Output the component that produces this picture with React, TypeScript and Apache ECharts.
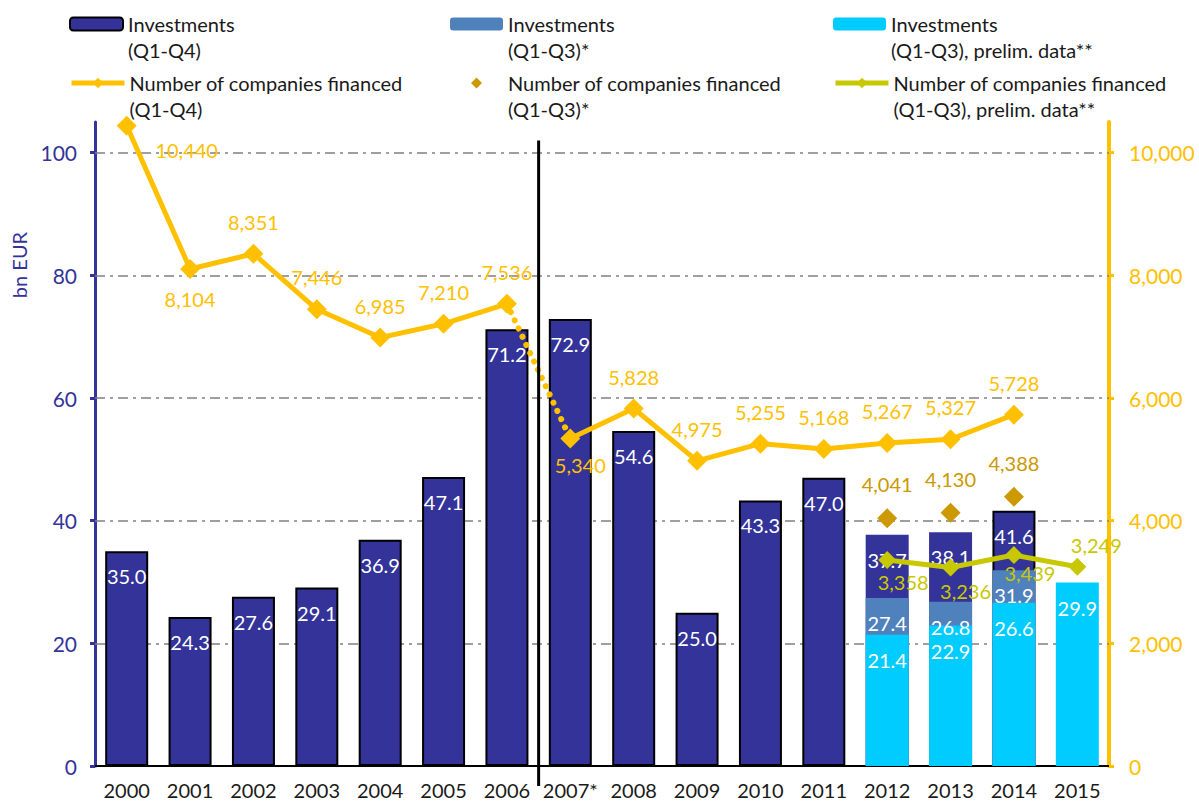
import React, { useEffect, useRef } from 'react';
import * as echarts from 'echarts';

const FONT = 'Lato, "Noto Sans", sans-serif';

const years = ['2000', '2001', '2002', '2003', '2004', '2005', '2006', '2007*', '2008', '2009', '2010', '2011', '2012', '2013', '2014', '2015'];
const invQ4 = [35.0, 24.3, 27.6, 29.1, 36.9, 47.1, 71.2, 72.9, 54.6, 25.0, 43.3, 47.0, 37.7, 38.1, 41.6, null];
const invQ3 = [null, null, null, null, null, null, null, null, null, null, null, null, 27.4, 26.8, 31.9, null];
const invPrelim = [null, null, null, null, null, null, null, null, null, null, null, null, 21.4, 22.9, 26.6, 29.9];
const compQ4 = [10440, 8104, 8351, 7446, 6985, 7210, 7536, 5340, 5828, 4975, 5255, 5168, 5267, 5327, 5728, null];
const compQ3 = [null, null, null, null, null, null, null, null, null, null, null, null, 4041, 4130, 4388, null];
const compPrelim = [null, null, null, null, null, null, null, null, null, null, null, null, 3358, 3236, 3439, 3249];
const leftTicks = [0, 20, 40, 60, 80, 100];
const breakYear = '2007*';
const noBorderYears = ['2012', '2013'];

// label placement (style only)
const compQ4LabelOffset = [[60, 24], [0, 30], [0, -32], [0, -32], [0, -32], [0, -32], [0, -32], [10, 27], [0, -32], [0, -32], [0, -32], [0, -32], [0, -32], [0, -32], [0, -32], [0, 0]];
const compQ3LabelOffset = [0, -34];
const compPrelimLabelOffset = [[0, 0], [0, 0], [0, 0], [0, 0], [0, 0], [0, 0], [0, 0], [0, 0], [0, 0], [0, 0], [0, 0], [0, 0], [16, 22], [15, 23], [16, 18], [19, -22]];

const N1 = 'Investments\n(Q1-Q4)';
const N2 = 'Investments\n(Q1-Q3)*';
const N3 = 'Investments\n(Q1-Q3), prelim. data**';
const N4 = 'Number of companies financed\n(Q1-Q4)';
const N5 = 'Number of companies financed\n(Q1-Q3)*';
const N6 = 'Number of companies financed\n(Q1-Q3), prelim. data**';

const C_DARK = '#333399';
const C_MID = '#4F81BD';
const C_CYAN = '#00CCFF';
const C_YEL = '#FFC000';
const C_GOLD = '#CC9900';
const C_LIME = '#C8C800';

const FS = 20;

const fmtInt = (v: number) => Math.round(v).toLocaleString('en-US');

// legend icon: a small diamond centred in a 53x13 box (corner points fix the box)
const DIAMOND_ICON = 'path://M0,0L0,0.01ZM53,13L53,12.99ZM21,6.5L26.5,1L32,6.5L26.5,12Z';

export default function App() {
  const ref = useRef<HTMLDivElement>(null);
  useEffect(() => {
    document.body.style.margin = '0';
    if (!ref.current) return;
    const chart = echarts.init(ref.current, undefined, { renderer: 'svg' });
    const breakIdx = years.indexOf(breakYear);

    const compBefore = compQ4.map((v, i) => (i < breakIdx ? v : null));
    const compAfter = compQ4.map((v, i) => (i >= breakIdx ? v : null));
    const compDotted = compQ4.map((v, i) => (i === breakIdx - 1 || i === breakIdx ? v : null));

    const lineLabel = (offsets: number[][]) => (v: number | null, i: number) =>
      v == null ? null : { value: v, label: { offset: offsets[i] } };

    const mkLegend = (name: string, left: number, iconCenter: number, extra: any = {}) => ({
      data: [name],
      left,
      top: iconCenter - 39,
      padding: 0,
      itemWidth: 53,
      itemHeight: 13,
      selectedMode: false,
      formatter: (n: string) => '\n' + n,
      lineStyle: { width: 5 },
      textStyle: {
        fontFamily: FONT,
        fontSize: FS,
        color: '#1a1a1a',
        lineHeight: 26,
      },
      ...extra,
    });

    const barLabel = {
      show: true,
      position: 'insideTop',
      distance: 15,
      color: '#ffffff',
      fontSize: FS,
      fontFamily: FONT,
      formatter: (p: any) => Number(p.value).toFixed(1),
    };

    const option: any = {
      animation: false,
      legend: [
        mkLegend(N1, 69, 24),
        mkLegend(N2, 450, 24),
        mkLegend(N3, 833, 24),
        mkLegend(N4, 69, 83),
        mkLegend(N5, 450, 83, { icon: DIAMOND_ICON, symbolKeepAspect: false }),
        mkLegend(N6, 833, 83),
      ],
      grid: { left: 95, right: 90, top: 122, bottom: 37, containLabel: false },
      xAxis: {
        type: 'category',
        data: years,
        axisLine: { lineStyle: { color: '#000', width: 2 } },
        axisTick: { show: false },
        axisLabel: { color: '#1a1a1a', fontSize: FS, fontFamily: FONT, margin: 14, interval: 0 },
      },
      yAxis: [
        {
          type: 'value',
          min: 0,
          max: 105,
          interval: 20,
          name: 'bn EUR',
          nameLocation: 'middle',
          nameGap: 66,
          nameRotate: 90,
          nameTextStyle: { color: C_DARK, fontSize: FS, fontFamily: FONT, padding: [0, 0, 0, 358] },
          axisLine: { show: true, lineStyle: { color: C_DARK, width: 3 } },
          axisTick: { show: true, length: 5, lineStyle: { color: C_DARK, width: 3 } },
          axisLabel: { color: C_DARK, fontSize: FS + 1, fontFamily: FONT, margin: 18, showMaxLabel: false },
          splitLine: { show: false },
        },
        {
          type: 'value',
          min: 0,
          max: 10500,
          interval: 2000,
          position: 'right',
          axisLine: { show: true, lineStyle: { color: C_YEL, width: 4 } },
          axisTick: { show: true, length: 5, lineStyle: { color: C_YEL, width: 3 } },
          axisLabel: { color: C_YEL, fontSize: FS + 1, fontFamily: FONT, margin: 20, showMaxLabel: false, formatter: (v: number) => fmtInt(v) },
          splitLine: { show: false },
        },
      ],
      series: [
        {
          name: N1,
          type: 'bar',
          barWidth: 43,
          barGap: '-100%',
          itemStyle: { color: C_DARK, borderColor: '#000', borderWidth: 2 },
          label: barLabel,
          data: invQ4.map((v, i) =>
            v == null ? null : noBorderYears.includes(years[i]) ? { value: v, itemStyle: { borderWidth: 0 } } : v
          ),
          markLine: {
            silent: true,
            z: 1,
            symbol: ['none', 'none'],
            label: { show: false },
            lineStyle: { color: '#808080', width: 1.5, type: [10, 5, 3, 5] },
            data: leftTicks.filter((t) => t > 0).map((t) => ({ yAxis: t })),
          },
        },
        {
          name: N2,
          type: 'bar',
          barWidth: 43,
          barGap: '-100%',
          itemStyle: { color: C_MID },
          label: barLabel,
          data: invQ3,
        },
        {
          name: N3,
          type: 'bar',
          barWidth: 43,
          barGap: '-100%',
          itemStyle: { color: C_CYAN },
          label: barLabel,
          data: invPrelim,
        },
        {
          name: 'dotted',
          type: 'line',
          yAxisIndex: 1,
          symbol: 'none',
          lineStyle: { color: C_YEL, width: 6, type: [0.1, 9], cap: 'round' },
          data: compDotted,
          z: 3,
        },
        {
          name: N4,
          type: 'line',
          yAxisIndex: 1,
          symbol: 'diamond',
          symbolSize: 20,
          itemStyle: { color: C_YEL },
          lineStyle: { color: C_YEL, width: 5 },
          label: { show: true, position: 'inside', color: C_YEL, fontSize: FS, fontFamily: FONT, formatter: (p: any) => fmtInt(p.value) },
          data: compBefore.map(lineLabel(compQ4LabelOffset)),
          z: 4,
        },
        {
          name: N4,
          type: 'line',
          yAxisIndex: 1,
          symbol: 'diamond',
          symbolSize: 20,
          itemStyle: { color: C_YEL },
          lineStyle: { color: C_YEL, width: 5 },
          label: { show: true, position: 'inside', color: C_YEL, fontSize: FS, fontFamily: FONT, formatter: (p: any) => fmtInt(p.value) },
          data: compAfter.map(lineLabel(compQ4LabelOffset)),
          z: 4,
        },
        {
          name: N5,
          type: 'scatter',
          yAxisIndex: 1,
          symbol: 'diamond',
          symbolSize: 20,
          itemStyle: { color: C_GOLD, opacity: 1 },
          label: { show: true, position: 'inside', offset: compQ3LabelOffset, color: C_GOLD, fontSize: FS, fontFamily: FONT, formatter: (p: any) => fmtInt(Array.isArray(p.value) ? p.value[1] : p.value) },
          data: compQ3,
          z: 4,
        },
        {
          name: N6,
          type: 'line',
          yAxisIndex: 1,
          symbol: 'diamond',
          symbolSize: 18,
          itemStyle: { color: C_LIME },
          lineStyle: { color: C_LIME, width: 5 },
          label: { show: true, position: 'inside', color: C_LIME, fontSize: FS, fontFamily: FONT, formatter: (p: any) => fmtInt(p.value) },
          data: compPrelim.map(lineLabel(compPrelimLabelOffset)),
          z: 5,
        },
      ],
    };
    chart.setOption(option);

    const x6 = chart.convertToPixel({ xAxisIndex: 0 }, years[breakIdx - 1]) as number;
    const x7 = chart.convertToPixel({ xAxisIndex: 0 }, years[breakIdx]) as number;
    const yTop = chart.convertToPixel({ yAxisIndex: 0 }, 102) as number;
    const yBase = chart.convertToPixel({ yAxisIndex: 0 }, 0) as number;
    const xs = (x6 + x7) / 2;
    chart.setOption({
      graphic: [
        {
          type: 'line',
          shape: { x1: xs, y1: yTop, x2: xs, y2: yBase + 20 },
          style: { stroke: '#000', lineWidth: 3 },
          z: 10,
        },
      ],
    });

    return () => chart.dispose();
  }, []);
  return <div ref={ref} style={{ width: 1199, height: 803 }} />;
}
